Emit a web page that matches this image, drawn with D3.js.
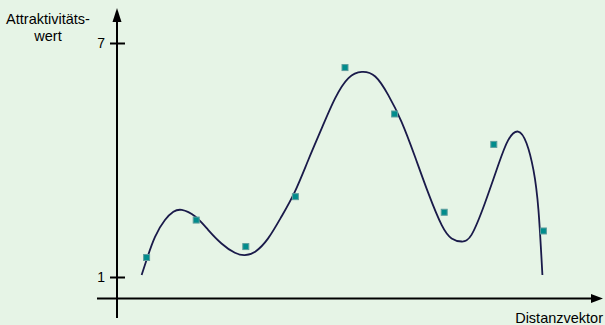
<!DOCTYPE html>
<html>
<head>
<meta charset="utf-8">
<script src="https://cdn.jsdelivr.net/npm/d3@7"></script>
<style>
  html, body { margin: 0; padding: 0; background: #e6f4e6; }
  svg { display: block; }
  text { font-family: "Liberation Sans", Arial, sans-serif; }
</style>
</head>
<body>
<svg id="chart" width="605" height="325"></svg>
<script>
// ---- Data ----
const pointX = [1, 2, 3, 4, 5, 6, 7, 8, 9];
const pointY = [1.50, 2.46, 1.78, 3.06, 6.37, 5.18, 2.66, 4.40, 2.18];

const curveX = [0.90, 1.01, 1.17, 1.37, 1.54, 1.71, 1.98, 2.24, 2.51, 2.78, 2.98, 3.19, 3.45, 3.72, 3.99, 4.26, 4.53, 4.80, 5.07, 5.34, 5.61, 5.87, 6.14, 6.41, 6.68, 6.95, 7.15, 7.35, 7.55, 7.82, 8.09, 8.29, 8.49, 8.66, 8.80, 8.90, 8.98];
const curveY = [1.05, 1.48, 2.03, 2.46, 2.67, 2.72, 2.55, 2.21, 1.86, 1.62, 1.56, 1.65, 1.99, 2.55, 3.19, 4.00, 4.81, 5.58, 6.10, 6.26, 6.14, 5.67, 4.98, 4.09, 3.15, 2.33, 1.99, 1.91, 2.08, 2.89, 3.87, 4.51, 4.73, 4.43, 3.74, 2.72, 1.05];

const yTicks = [1, 7];
const yLabel = ["Attraktivitäts-", "wert"];
const xLabel = "Distanzvektor";

// ---- Layout ----
const W = 605, H = 325;
const svg = d3.select("#chart");
svg.append("rect").attr("width", W).attr("height", H).attr("fill", "#e6f4e6");

const x = d3.scaleLinear().domain([0, 10]).range([97, 593]);
const y = d3.scaleLinear().domain([0, 7]).range([316, 43]);

const axisX = 117;      // pixel position of vertical axis
const axisY = 298.5;    // pixel position of horizontal axis

// Horizontal axis line + arrow
svg.append("line")
  .attr("x1", 97).attr("x2", 594).attr("y1", axisY).attr("y2", axisY)
  .attr("stroke", "#000").attr("stroke-width", 2);
svg.append("path")
  .attr("d", `M603,${axisY} L591,${axisY - 4.5} L591,${axisY + 4.5} Z`)
  .attr("fill", "#000");

// Vertical axis via d3 axis
const yAxis = d3.axisLeft(y).tickValues(yTicks).tickFormat(d3.format("d"))
  .tickSizeInner(7).tickSizeOuter(0);
const gy = svg.append("g").attr("transform", `translate(${axisX},0)`).call(yAxis);
gy.select(".domain").remove();
gy.selectAll(".tick line").attr("x1", -7).attr("x2", 8)
  .attr("stroke", "#000").attr("stroke-width", 2);
gy.selectAll(".tick text").attr("x", -12).attr("font-size", 14)
  .attr("font-family", "Liberation Sans, Arial, sans-serif").attr("fill", "#000");

svg.append("line")
  .attr("x1", axisX).attr("x2", axisX).attr("y1", 18).attr("y2", 318)
  .attr("stroke", "#000").attr("stroke-width", 2);
svg.append("path")
  .attr("d", `M${axisX},8 L${axisX - 4.5},22 L${axisX + 4.5},22 Z`)
  .attr("fill", "#000");

// Axis labels
svg.append("text").attr("x", 48).attr("y", 24).attr("text-anchor", "middle")
  .attr("font-size", 14.5).attr("fill", "#000").text(yLabel[0]);
svg.append("text").attr("x", 48).attr("y", 41).attr("text-anchor", "middle")
  .attr("font-size", 14.5).attr("fill", "#000").text(yLabel[1]);
svg.append("text").attr("x", 603).attr("y", 323).attr("text-anchor", "end")
  .attr("font-size", 14.5).attr("fill", "#000").text(xLabel);

// Curve
const curveData = curveX.map((d, i) => [d, curveY[i]]);
const line = d3.line().x(d => x(d[0])).y(d => y(d[1])).curve(d3.curveNatural);
svg.append("path").datum(curveData)
  .attr("d", line).attr("fill", "none")
  .attr("stroke", "#1a1a4a").attr("stroke-width", 1.8);

// Points
const pts = pointX.map((d, i) => [d, pointY[i]]);
svg.selectAll("rect.pt").data(pts).enter().append("rect")
  .attr("class", "pt")
  .attr("x", d => x(d[0]) - 3).attr("y", d => y(d[1]) - 3)
  .attr("width", 6).attr("height", 6)
  .attr("fill", "#008c8c").attr("stroke", "#5e9e9e").attr("stroke-width", 1);
</script>
</body>
</html>
